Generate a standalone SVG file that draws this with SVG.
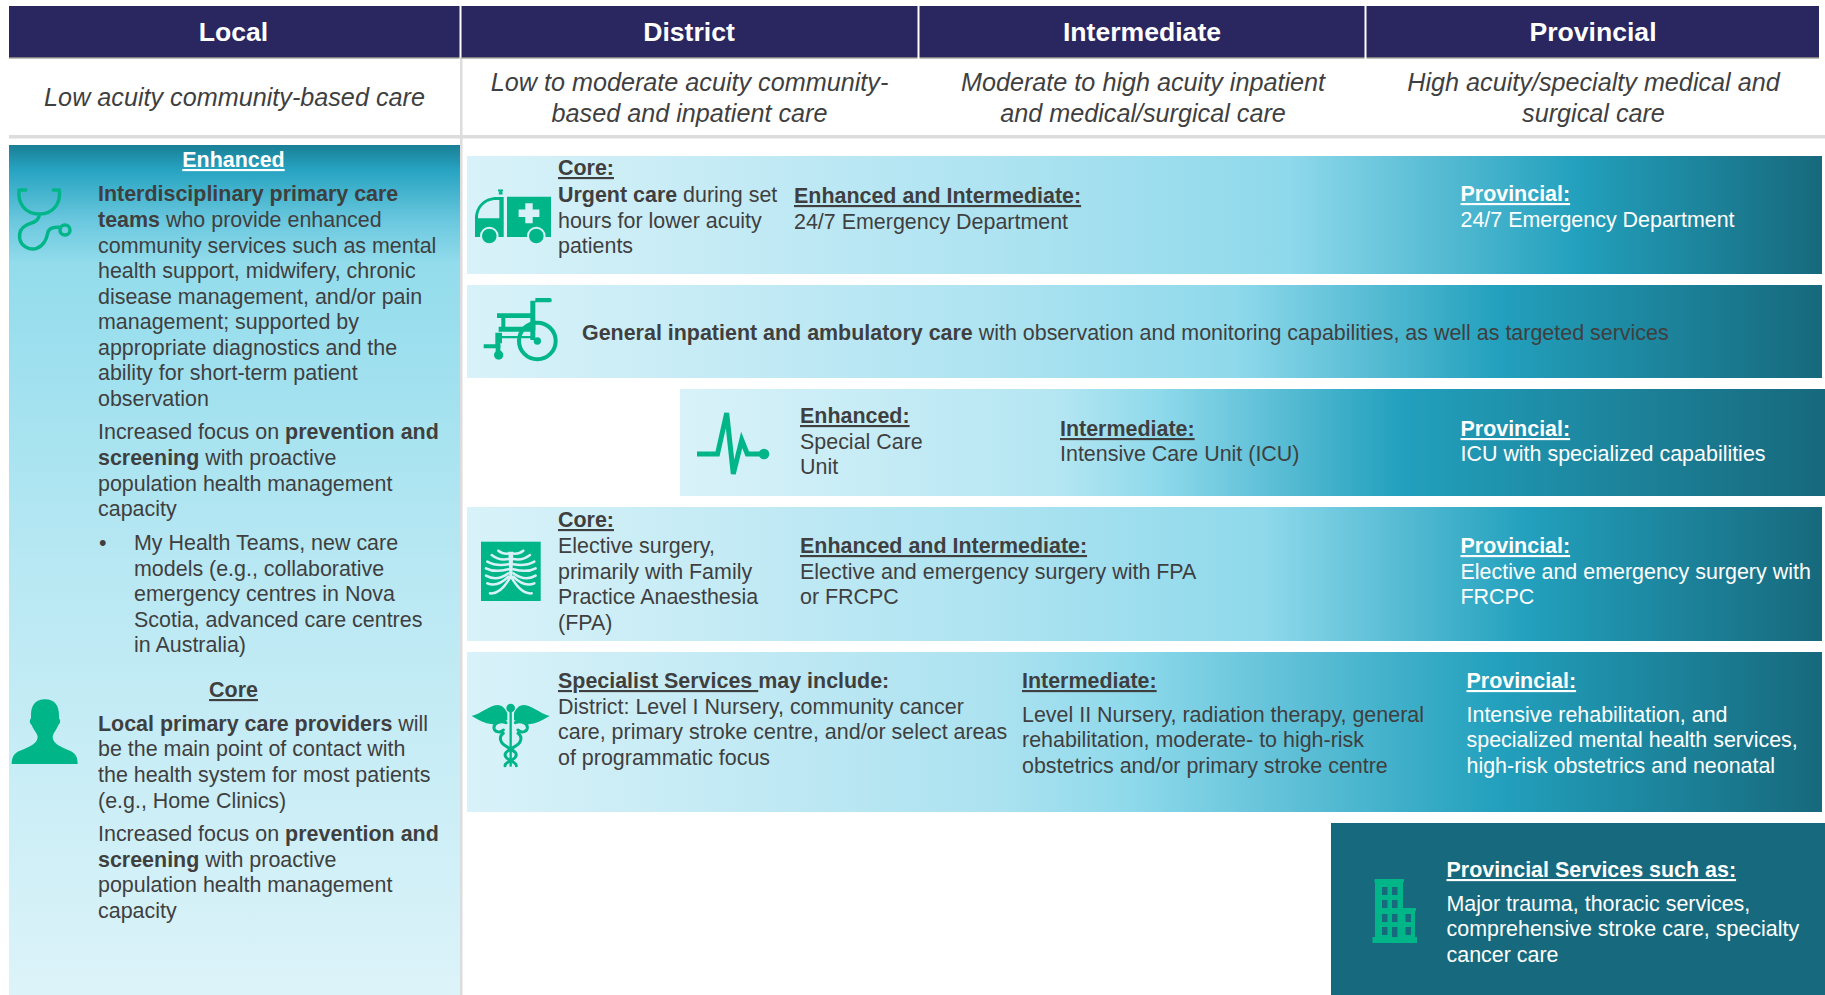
<svg xmlns="http://www.w3.org/2000/svg" width="1825" height="995" viewBox="0 0 1825 995">
<style>
text{font-family:"Liberation Sans",Arial,sans-serif;font-size:21.450px;fill:#3f3f3f}
.b{font-weight:700}
.u{font-weight:700;text-decoration:underline}
.w,.w tspan{fill:#fff}
.h{font-size:26.600px;font-weight:700;fill:#fff;text-anchor:middle}
.i{font-size:25.200px;font-style:italic;text-anchor:middle}
.c{text-anchor:middle}
.f{fill:#00b689}
.s{fill:none;stroke:#00b689;stroke-linecap:round;stroke-linejoin:round}
.hb{fill:#2a2660}
.hl{fill:#7f7f7f}
</style>
<defs>
<linearGradient id="g1" x1="0" y1="0" x2="1" y2="0"><stop offset="0" stop-color="#d9f2f9"/><stop offset=".39" stop-color="#aee3f1"/><stop offset=".607" stop-color="#8ed9eb"/><stop offset=".82" stop-color="#22a0bd"/><stop offset="1" stop-color="#17697c"/></linearGradient>
<linearGradient id="g2" x1="0" y1="0" x2="1" y2="0"><stop offset="0" stop-color="#d9f2f9"/><stop offset=".39" stop-color="#aee3f1"/><stop offset=".568" stop-color="#8ed9eb"/><stop offset=".762" stop-color="#22a0bd"/><stop offset="1" stop-color="#17697c"/></linearGradient>
<linearGradient id="g3" x1="0" y1="0" x2="1" y2="0"><stop offset="0" stop-color="#d9f2f9"/><stop offset=".33" stop-color="#b4e6f2"/><stop offset=".42" stop-color="#8ed9eb"/><stop offset=".63" stop-color="#22a0bd"/><stop offset="1" stop-color="#17697c"/></linearGradient>
<linearGradient id="g4" x1="0" y1="0" x2="1" y2="0"><stop offset="0" stop-color="#d9f2f9"/><stop offset=".39" stop-color="#aee3f1"/><stop offset=".588" stop-color="#8ed9eb"/><stop offset=".783" stop-color="#22a0bd"/><stop offset="1" stop-color="#17697c"/></linearGradient>
<linearGradient id="g5" x1="0" y1="0" x2="1" y2="0"><stop offset="0" stop-color="#d9f2f9"/><stop offset=".39" stop-color="#ace2f0"/><stop offset=".49" stop-color="#8ed9eb"/><stop offset=".762" stop-color="#22a0bd"/><stop offset="1" stop-color="#17697c"/></linearGradient>
<linearGradient id="gl" x1="0" y1="0" x2="0" y2="1"><stop offset="0" stop-color="#1a7f96"/><stop offset=".03" stop-color="#27a4c2"/><stop offset=".09" stop-color="#6bc8de"/><stop offset=".14" stop-color="#93dcec"/><stop offset=".5" stop-color="#b8e8f3"/><stop offset="1" stop-color="#dcf3f9"/></linearGradient>
</defs>
<g id="grid">
<rect x="9" y="135" width="1816" height="3.500" fill="#dcdcdc"/>
<rect x="460" y="57" width="2.500" height="938" fill="#dcdcdc"/>
</g>
<g id="header-local"><rect class="hb" x="9" y="6" width="450.500" height="51"/><rect class="hl" x="9" y="57" width="450.500" height="1.500"/><text class="h" x="233.500" y="41">Local</text></g>
<g id="header-district"><rect class="hb" x="461.500" y="6" width="456" height="51"/><rect class="hl" x="461.500" y="57" width="456" height="1.500"/><text class="h" x="689" y="41">District</text></g>
<g id="header-intermediate"><rect class="hb" x="919.500" y="6" width="445" height="51"/><rect class="hl" x="919.500" y="57" width="445" height="1.500"/><text class="h" x="1142" y="41">Intermediate</text></g>
<g id="header-provincial"><rect class="hb" x="1366.500" y="6" width="452.500" height="51"/><rect class="hl" x="1366.500" y="57" width="452.500" height="1.500"/><text class="h" x="1593" y="41">Provincial</text></g>
<g id="sub-local"><text class="i" x="234.500" y="106">Low acuity community-based care</text></g>
<g id="sub-district"><text class="i" x="689.500" y="91">Low to moderate acuity community-</text><text class="i" x="689.500" y="122">based and inpatient care</text></g>
<g id="sub-intermediate"><text class="i" x="1143" y="91">Moderate to high acuity inpatient</text><text class="i" x="1143" y="122">and medical/surgical care</text></g>
<g id="sub-provincial"><text class="i" x="1593.500" y="91">High acuity/specialty medical and</text><text class="i" x="1593.500" y="122">surgical care</text></g>

<g id="local-panel">
<rect x="9" y="145" width="451" height="850" fill="url(#gl)"/>
<text class="u w c" x="233.500" y="167">Enhanced</text>
<g transform="translate(5 180) scale(.3333)">
<path class="s" stroke-width="10.500" d="M62 30H42C38 70 60 102 103 102C145 102 168 70 163 30H145M103 102C103 125 80 128 65 135C45 145 42 160 44 175C48 200 75 212 95 205C120 195 125 175 128 160C130 145 145 140 165 142"/>
<circle class="s" stroke-width="10.500" cx="180" cy="150" r="15"/>
</g>
<text x="98" y="201"><tspan class="b">Interdisciplinary primary care</tspan></text>
<text x="98" y="227"><tspan class="b">teams</tspan> who provide enhanced</text>
<text x="98" y="253">community services such as mental</text>
<text x="98" y="278">health support, midwifery, chronic</text>
<text x="98" y="304">disease management, and/or pain</text>
<text x="98" y="329">management; supported by</text>
<text x="98" y="355">appropriate diagnostics and the</text>
<text x="98" y="380">ability for short-term patient</text>
<text x="98" y="406">observation</text>
<text x="98" y="439">Increased focus on <tspan class="b">prevention and</tspan></text>
<text x="98" y="465"><tspan class="b">screening</tspan> with proactive</text>
<text x="98" y="491">population health management</text>
<text x="98" y="516">capacity</text>
<text x="99" y="550">•</text>
<text x="134" y="550">My Health Teams, new care</text>
<text x="134" y="576">models (e.g., collaborative</text>
<text x="134" y="601">emergency centres in Nova</text>
<text x="134" y="627">Scotia, advanced care centres</text>
<text x="134" y="652">in Australia)</text>
<text class="u c" x="233.500" y="697">Core</text>
<path class="f" transform="translate(5 690) scale(.3333)" d="M120 28C150 28 162 48 162 75V85C167 90 167 100 160 105C155 120 145 128 143 140C143 160 165 170 195 182C212 190 218 200 218 222H20C20 200 28 188 45 182C75 170 98 160 98 140C96 128 85 120 80 105C73 100 73 90 78 85V75C78 48 90 28 120 28Z"/>
<text x="98" y="731"><tspan class="b">Local primary care providers</tspan> will</text>
<text x="98" y="756">be the main point of contact with</text>
<text x="98" y="782">the health system for most patients</text>
<text x="98" y="808">(e.g., Home Clinics)</text>
<text x="98" y="841">Increased focus on <tspan class="b">prevention and</tspan></text>
<text x="98" y="867"><tspan class="b">screening</tspan> with proactive</text>
<text x="98" y="892">population health management</text>
<text x="98" y="918">capacity</text>
</g>

<g id="row-emergency">
<rect x="467" y="156" width="1355" height="118" fill="url(#g1)"/>
<path class="f" d="M475 237V219C475 206 484 197 497 197h6.700V237zM507 196.700h44V237h-44zM498.700 194.500c0-5 4-5 4 0z"/>
<rect x="498" y="189.500" width="5" height="2" class="f"/>
<path d="M478 218.300V217c0-9 7-16 16-17h5.300v18.300z" fill="#d8f1f8"/>
<path d="M525.300 203.300h7.400v6.300h6.700v7.400h-6.700v6.300h-7.400V217h-6.700v-7.400h6.700z" fill="#d8f1f8"/>
<circle class="f" cx="489.300" cy="236" r="8.300" stroke="#d8f1f8" stroke-width="2"/>
<circle class="f" cx="536.300" cy="236" r="8.300" stroke="#d4f0f8" stroke-width="2"/>
<text class="u" x="558" y="175">Core:</text>
<text x="558" y="202"><tspan class="b">Urgent care</tspan> during set</text>
<text x="558" y="228">hours for lower acuity</text>
<text x="558" y="253">patients</text>
<text class="u" x="794" y="203">Enhanced and Intermediate:</text>
<text x="794" y="229">24/7 Emergency Department</text>
<text class="u w" x="1460.500" y="201">Provincial:</text>
<text class="w" x="1460.500" y="227">24/7 Emergency Department</text>
</g>

<g id="row-inpatient">
<rect x="467" y="285" width="1355" height="93" fill="url(#g2)"/>
<g transform="translate(467 180) scale(.3333)">
<circle class="s" stroke-width="12" cx="211" cy="483" r="55"/>
<circle class="f" cx="211" cy="483" r="11"/>
<path class="f" d="M205 354H248a6 6 0 0 1 0 13H205V480H190V362H205ZM90 400H190V414H115V440H190V425H205V455H95V440H103V414H90ZM85 458H105V468H200V458H205V475H105V490H100V505H50V493H85Z"/>
<path class="f" d="M170 440L205 420V450H170Z"/>
<circle class="f" cx="95" cy="525" r="14"/>
<rect class="f" x="86" y="495" width="14" height="20"/>
</g>
<text x="582" y="340"><tspan class="b">General inpatient and ambulatory care</tspan> with observation and monitoring capabilities, as well as targeted services</text>
</g>

<g id="row-icu">
<rect x="680" y="389" width="1145" height="107" fill="url(#g3)"/>
<path fill="none" stroke="#00b689" stroke-width="5" d="M697 454h20.500L726.700 413l6.600 61 8.400-34 5.600 14H764"/>
<circle class="f" cx="764" cy="454" r="5.300"/>
<text class="u" x="800" y="423">Enhanced:</text>
<text x="800" y="449">Special Care</text>
<text x="800" y="474">Unit</text>
<text class="u" x="1060" y="436">Intermediate:</text>
<text x="1060" y="461">Intensive Care Unit (ICU)</text>
<text class="u w" x="1460.500" y="436">Provincial:</text>
<text class="w" x="1460.500" y="461">ICU with specialized capabilities</text>
</g>

<g id="row-surgery">
<rect x="467" y="507" width="1355" height="134" fill="url(#g4)"/>
<rect class="f" x="481" y="541.700" width="59.700" height="59.300"/>
<g transform="translate(470 535) scale(.3333)">
<g id="ribs" fill="none" stroke="#d8f1f8" stroke-width="7.500" stroke-linecap="round">
<path d="M120 55C105 58 95 55 85 47M115 72C100 75 80 72 65 60M115 88C95 92 70 90 52 80M115 103C95 108 70 112 48 100M115 115C95 130 70 135 48 122M115 125C95 145 75 155 52 145M122 125C105 155 85 178 60 175"/>
</g>
<use href="#ribs" transform="translate(245 0) scale(-1 1)"/>
<path d="M115 50H130L127 125H118Z" fill="#d8f1f8"/>
</g>
<text class="u" x="558" y="527">Core:</text>
<text x="558" y="553">Elective surgery,</text>
<text x="558" y="579">primarily with Family</text>
<text x="558" y="604">Practice Anaesthesia</text>
<text x="558" y="630">(FPA)</text>
<text class="u" x="800" y="553">Enhanced and Intermediate:</text>
<text x="800" y="579">Elective and emergency surgery with FPA</text>
<text x="800" y="604">or FRCPC</text>
<text class="u w" x="1460.500" y="553">Provincial:</text>
<text class="w" x="1460.500" y="579">Elective and emergency surgery with</text>
<text class="w" x="1460.500" y="604">FRCPC</text>
</g>

<g id="row-specialist">
<rect x="467" y="652" width="1355" height="160" fill="url(#g5)"/>
<g transform="translate(470 535) scale(.3333)">
<g id="cad-half">
<path class="f" d="M5 543C35 535 60 510 85 510C100 512 108 525 112 535V555C90 568 65 570 50 565C30 558 15 548 5 543Z"/>
<path class="s" stroke-width="9" d="M108 563C90 555 70 565 72 580C74 592 92 595 100 585M100 595C85 605 90 625 110 635C135 650 145 655 135 668C125 680 105 680 105 692"/>
</g>
<use href="#cad-half" transform="translate(244 0) scale(-1 1)"/>
<circle class="f" cx="122" cy="519" r="13"/>
<rect class="f" x="118.500" y="525" width="7" height="170"/>
</g>
<text x="558" y="688"><tspan class="u">Specialist Services </tspan><tspan class="b">may include:</tspan></text>
<text x="558" y="714">District: Level I Nursery, community cancer</text>
<text x="558" y="739">care, primary stroke centre, and/or select areas</text>
<text x="558" y="765">of programmatic focus</text>
<text class="u" x="1022" y="688">Intermediate:</text>
<text x="1022" y="722">Level II Nursery, radiation therapy, general</text>
<text x="1022" y="747">rehabilitation, moderate- to high-risk</text>
<text x="1022" y="773">obstetrics and/or primary stroke centre</text>
<text class="u w" x="1466.500" y="688">Provincial:</text>
<text class="w" x="1466.500" y="722">Intensive rehabilitation, and</text>
<text class="w" x="1466.500" y="747">specialized mental health services,</text>
<text class="w" x="1466.500" y="773">high-risk obstetrics and neonatal</text>
</g>

<g id="provincial-services">
<rect x="1331" y="823" width="494" height="172" fill="#176a7d"/>
<path class="f" d="M1375 879h29v3h-1v26h13v3h-1v26h2v6h-44.500v-6h2.500v-55h-1z"/>
<path fill="#176a7d" d="M1382 887h5.500v8H1382zM1392 887h5.500v8H1392zM1382 900h5.500v8H1382zM1392 900h5.500v8H1392zM1382 914h5.500v8H1382zM1392 914h5.500v8H1392zM1405.500 914h5.500v8h-5.500zM1382 927h5.500v8H1382zM1392 927h5.500v10H1392zM1405.500 927h5.500v8h-5.500z"/>
<text class="u w" x="1446.500" y="877">Provincial Services such as:</text>
<text class="w" x="1446.500" y="911">Major trauma, thoracic services,</text>
<text class="w" x="1446.500" y="936">comprehensive stroke care, specialty</text>
<text class="w" x="1446.500" y="962">cancer care</text>
</g>
</svg>
